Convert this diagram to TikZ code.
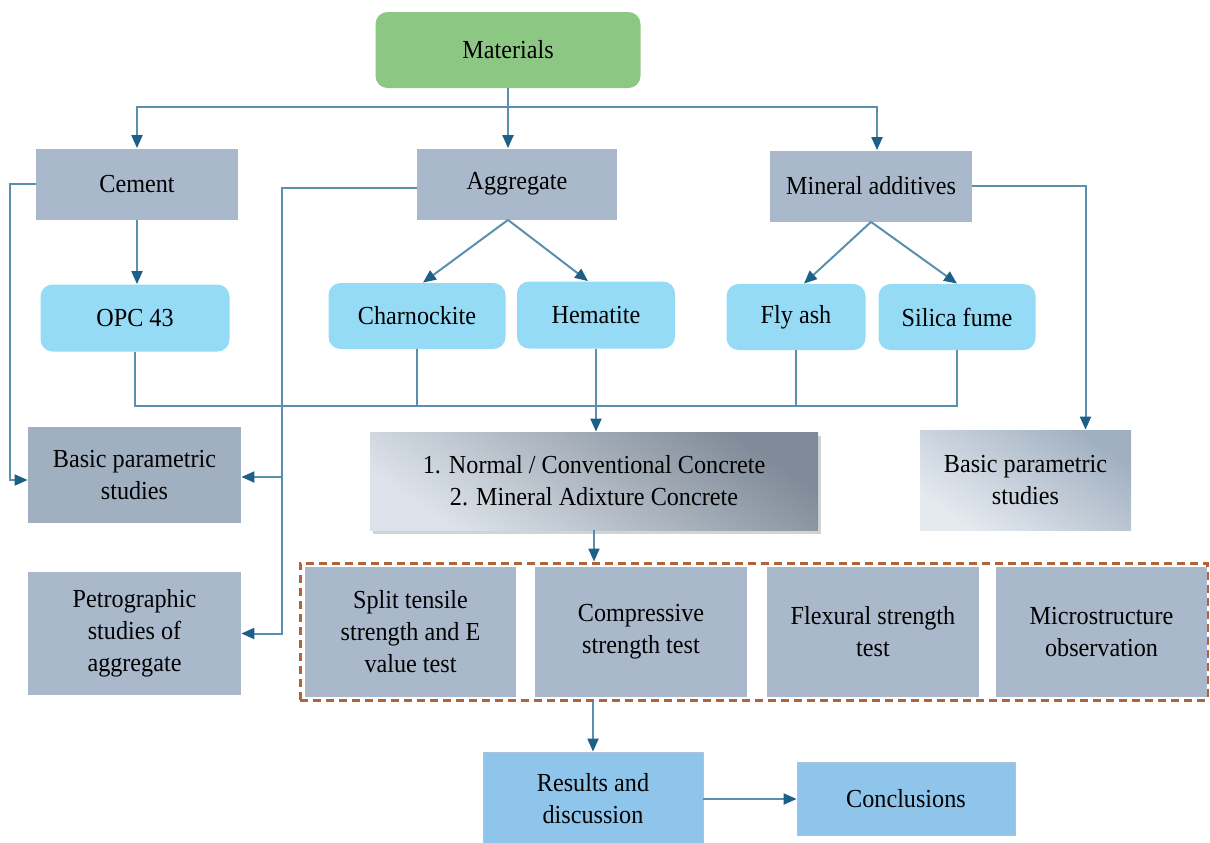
\documentclass[tikz,border=0pt]{standalone}
\usepackage{fontspec}
\setmainfont{Liberation Serif}[FakeStretch=0.93]
\usetikzlibrary{arrows.meta,shadows}
\definecolor{lnc}{HTML}{5B8FB0}
\definecolor{tipc}{HTML}{1C6088}
\definecolor{matc}{HTML}{8DC784}
\definecolor{grpc}{HTML}{A9B9CB}
\definecolor{subc}{HTML}{96DBF6}
\definecolor{resc}{HTML}{8FC5EB}
\definecolor{dashc}{HTML}{B0643A}

\begin{document}
\begin{tikzpicture}[x=0.5pt,y=-0.5pt,font=\fontsize{13}{16}\selectfont,
    ln/.style={draw=lnc,line width=1pt},
    arr/.style={ln,-{Triangle[length=6.5pt,width=5.5pt,color=tipc]}},
    mat/.style={fill=matc,rounded corners=6pt,align=center},
    grp/.style={fill=grpc,align=center},
    sub/.style={fill=subc,rounded corners=6pt,align=center},
    res/.style={fill=resc,draw=resc!80!black!60,line width=0.4pt,align=center},
    tst/.style={grp,minimum height=65pt},
    dashbox/.style={draw=dashc,line width=1.5pt,dash pattern=on 4pt off 2.5pt}]
  \useasboundingbox (0,0) rectangle (1210,842);
  \node[mat,minimum width=132.5pt,minimum height=38pt] (mat) at (508,50) {Materials};
  \node[grp,minimum width=101pt,minimum height=35.5pt] (cem) at (137,184) {Cement};
  \node[grp,minimum width=100pt,minimum height=35.5pt] (agg) at (517,184) {Aggregate};
  \node[grp,minimum width=101pt,minimum height=35.5pt] (min) at (871,186) {Mineral additives};
  \node[sub,minimum width=94.5pt,minimum height=33.5pt] (opc) at (135,318) {OPC 43};
  \node[sub,minimum width=88.5pt,minimum height=33pt] (cha) at (417,316) {Charnockite};
  \node[sub,minimum width=79pt,minimum height=33.5pt] (hem) at (596,315) {Hematite};
  \node[sub,minimum width=69.5pt,minimum height=33pt] (fly) at (796,317) {Fly ash};
  \node[sub,minimum width=78.5pt,minimum height=33pt] (sil) at (957,317) {Silica fume};
  \node[grp,fill=grpc!95!black,minimum width=106.5pt,minimum height=48pt] (bpl) at (134.5,475) {Basic parametric\\studies};
  \node[grp,minimum width=106.5pt,minimum height=61.5pt] (pet) at (134.5,633.5) {Petrographic\\studies of\\aggregate};
  \node[align=center,minimum width=224pt,minimum height=49pt,
        top color=black!25!grpc,bottom color=grpc!40,shading angle=-35,
        drop shadow={shadow xshift=1.5pt,shadow yshift=-2pt,opacity=.35}] (con) at (594,481)
        {1. Normal / Conventional Concrete\\2. Mineral Adixture Concrete};
  \node[align=center,minimum width=105.5pt,minimum height=50pt,
        top color=grpc!95!black,bottom color=grpc!30,shading angle=-35] (bpr) at (1025.5,480) {Basic parametric\\studies};
  \node[dashbox,minimum width=453.5pt,minimum height=68.5pt] (tests) at (753.5,631.5) {};
  \node[tst,minimum width=105.5pt] (spl) at (410.5,632) {Split tensile\\strength and E\\value test};
  \node[tst,minimum width=106pt] (cmp) at (641,632) {Compressive\\strength test};
  \node[tst,minimum width=106pt] (flx) at (873,632) {Flexural strength\\test};
  \node[tst,minimum width=105.5pt] (mic) at (1101.5,632) {Microstructure\\observation};
  \node[res,minimum width=110pt,minimum height=47pt] (res) at (593,799) {Results and\\discussion};
  \node[res,minimum width=109pt,minimum height=36.5pt] (cnc) at (906,799) {Conclusions};

  \coordinate (top) at (508,107);
  \coordinate (bus) at (0,406);
  \coordinate (al) at (282,188);
  \coordinate (br) at (282,477);
  \draw[arr] (mat) -- (mat |- agg.north);
  \draw[arr] (top) -| (cem);
  \draw[arr] (top) -| ([xshift=3pt]min.north);
  \draw[arr] (cem) -- (cem |- opc.north);
  \draw[arr] ([xshift=-4.5pt]agg.south) -- ([xshift=3pt]cha.north);
  \draw[arr] ([xshift=-4.5pt]agg.south) -- ([xshift=-4pt]hem.north);
  \draw[arr] (min.south) -- ([xshift=4pt]fly.north);
  \draw[arr] (min.south) -- (sil.north);
  \draw[ln] (opc) |- (bus -| sil) -- (sil);
  \draw[ln] (cha) -- (cha |- bus);
  \draw[ln] (fly) -- (fly |- bus);
  \draw[arr] (hem) -- (hem |- con.north);
  \draw[arr] (cem.west) -- ++(-13pt,0) |- ([yshift=-2.5pt]bpl.west);
  \draw[arr] ([yshift=-2pt]agg.west) -- (al) |- (pet.east);
  \draw[arr] (br) -- (br -| bpl.east);
  \draw[arr] (min.east) -| ([xshift=30pt]bpr.north);
  \draw[arr] (con) -- (con |- tests.north);
  \draw[arr] (res |- tests.south) -- (res);
  \draw[arr] (res) -- (cnc);
\end{tikzpicture}
\end{document}
